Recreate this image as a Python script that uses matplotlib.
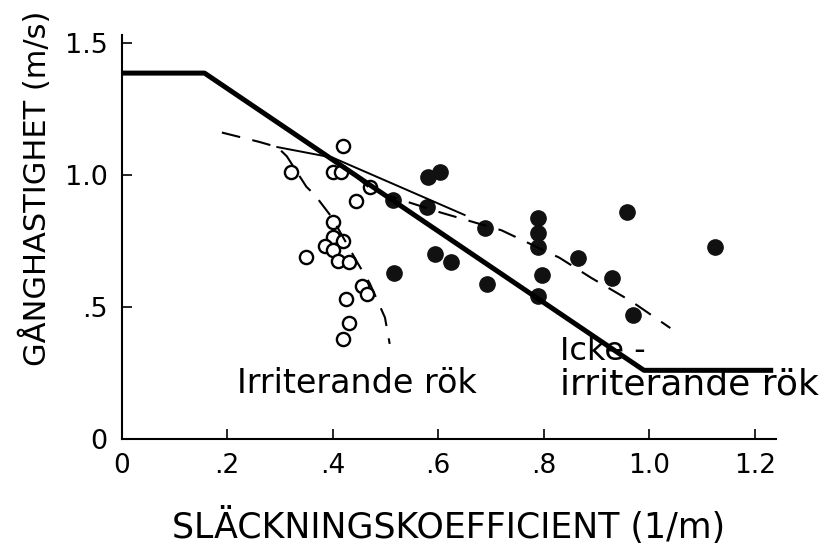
import matplotlib
matplotlib.use("Agg")
import matplotlib.pyplot as plt
import numpy as np

# --- data ---
model_x = [0.0, 0.157, 0.99, 1.235]
model_y = [1.385, 1.385, 0.26, 0.26]

thin_x = [0.295, 0.40, 0.65]
thin_y = [1.105, 1.065, 0.848]

irr_curve_x = [0.19, 0.26, 0.295, 0.313, 0.35, 0.366, 0.398, 0.447, 0.47, 0.499, 0.508]
irr_curve_y = [1.16, 1.125, 1.105, 1.07, 0.955, 0.924, 0.84, 0.667, 0.59, 0.46, 0.36]

non_curve_x = [0.44, 0.476, 0.60, 0.72, 0.83, 0.89, 0.967, 1.04]
non_curve_y = [1.00, 0.94, 0.86, 0.79, 0.686, 0.61, 0.52, 0.42]

irr_x = [0.42, 0.32, 0.40, 0.415, 0.445, 0.47, 0.40, 0.40, 0.385, 0.42, 0.40, 0.41,
         0.43, 0.35, 0.455, 0.465, 0.425, 0.43, 0.42]
irr_y = [1.11, 1.01, 1.01, 1.01, 0.90, 0.955, 0.82, 0.765, 0.73, 0.75, 0.715, 0.675,
         0.67, 0.69, 0.58, 0.55, 0.53, 0.44, 0.38]

non_x = [0.58, 0.603, 0.514, 0.578, 0.688, 0.593, 0.625, 0.517, 0.692, 0.789, 0.789,
         0.789, 0.796, 0.79, 0.865, 0.93, 0.957, 0.969, 1.124]
non_y = [0.99, 1.01, 0.905, 0.88, 0.80, 0.70, 0.67, 0.63, 0.585, 0.837, 0.78,
         0.727, 0.62, 0.54, 0.686, 0.61, 0.86, 0.47, 0.727]

xticks = [0, 0.2, 0.4, 0.6, 0.8, 1.0, 1.2]
xticklabels = ["0", ".2", ".4", ".6", ".8", "1.0", "1.2"]
yticks = [0, 0.5, 1.0, 1.5]
yticklabels = ["0", ".5", "1.0", "1.5"]

plt.rcParams['font.family'] = ['DejaVu Sans']
fig = plt.figure(figsize=(8.28, 5.47), dpi=100)
ax = fig.add_axes([0.147, 0.1974, 0.790, 0.739])
ax.set_xlim(0, 1.24)
ax.set_ylim(0, 1.53)

ax.plot(model_x, model_y, color='black', lw=3.6, solid_capstyle='butt', zorder=4)
ax.plot(thin_x, thin_y, color='black', lw=1.4, zorder=3)
ax.plot(irr_curve_x, irr_curve_y, color='black', lw=1.5, ls=(0, (9, 6)), zorder=3)
ax.plot(non_curve_x, non_curve_y, color='black', lw=1.5, ls=(0, (9, 6)), zorder=3)

ax.plot(irr_x, irr_y, 'o', ms=9.5, mfc='white', mec='black', mew=1.7, ls='none', zorder=2)
ax.plot(non_x, non_y, 'o', ms=11, mfc='#111111', mec='#111111', ls='none', zorder=2)

ax.text(0.445, 0.21, "Irriterande rök", fontsize=24, ha='center', va='center')
ax.text(0.83, 0.33, "Icke -", fontsize=23, ha='left', va='center', clip_on=False)
ax.text(0.83, 0.205, "irriterande rök", fontsize=26, ha='left', va='center', clip_on=False)

for s in ['top', 'right']:
    ax.spines[s].set_visible(False)
for s in ['left', 'bottom']:
    ax.spines[s].set_linewidth(1.5)

ax.set_xticks(xticks)
ax.set_xticklabels(xticklabels, fontsize=19)
ax.set_yticks(yticks)
ax.set_yticklabels(yticklabels, fontsize=19.5)
ax.tick_params(direction='in', length=7, width=1.2, pad=10)

ax.set_ylabel("GÅNGHASTIGHET (m/s)", fontsize=22)
ax.yaxis.set_label_coords(-0.107, 0.62)
ax.set_xlabel("SLÄCKNINGSKOEFFICIENT (1/m)", fontsize=25, labelpad=20)

fig.savefig("out.png", dpi=100)
